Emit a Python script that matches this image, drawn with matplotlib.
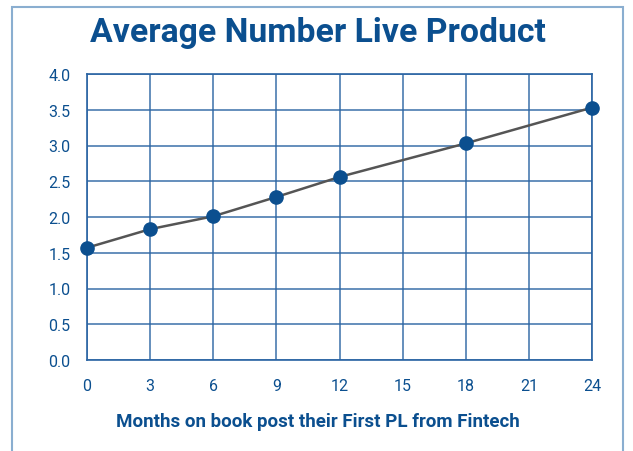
import matplotlib
matplotlib.use("Agg")
import matplotlib.pyplot as plt
from matplotlib.patches import Rectangle

months = [0, 3, 6, 9, 12, 18, 24]
avg_products = [1.57, 1.83, 2.01, 2.28, 2.56, 3.03, 3.53]
x_ticks = [0, 3, 6, 9, 12, 15, 18, 21, 24]
y_ticks = [0.0, 0.5, 1.0, 1.5, 2.0, 2.5, 3.0, 3.5, 4.0]

blue = "#0b4f8f"
grid_blue = "#2a64a3"

plt.rcParams['font.family'] = ['Roboto', 'DejaVu Sans']

fig = plt.figure(figsize=(6.33, 4.52), dpi=100)
ax = fig.add_axes([87/633, 1 - 361/452, (592-87)/633, (361-75)/452])

ax.plot(months, avg_products, color="#555555", lw=1.8, zorder=3, clip_on=False)
ax.plot(months, avg_products, 'o', color=blue, ms=9.5, zorder=4, clip_on=False)

ax.set_xlim(0, 24)
ax.set_ylim(0, 4)
ax.set_xticks(x_ticks)
ax.set_yticks(y_ticks)
ax.set_yticklabels([f"{v:.1f}" for v in y_ticks])
ax.grid(True, color=grid_blue, lw=1.2, alpha=0.85)
ax.set_axisbelow(True)
for s in ax.spines.values():
    s.set_color(grid_blue)
    s.set_linewidth(1.2)
ax.tick_params(length=0, labelcolor=blue, labelsize=11.5)
ax.tick_params(axis='x', pad=13)
ax.tick_params(axis='y', pad=12)

ax.set_xlabel("Months on book post their First PL from Fintech", color=blue,
              fontsize=13.5, fontweight='bold', labelpad=14)
ax.xaxis.set_label_coords(318/633, 1 - 422/452, transform=fig.transFigure)
ax.xaxis.label.set_va('center')

fig.text(318/633, 1 - 33/452, "Average Number Live Product", ha='center', va='center',
         color=blue, fontsize=24.3, fontweight='bold')

fig.patches.append(Rectangle((12/633, -0.1), (623-12)/633, 1.1 - 8/452,
                             transform=fig.transFigure, fill=False,
                             edgecolor="#8aaed0", lw=1.5))

fig.savefig("out.png", dpi=100)
